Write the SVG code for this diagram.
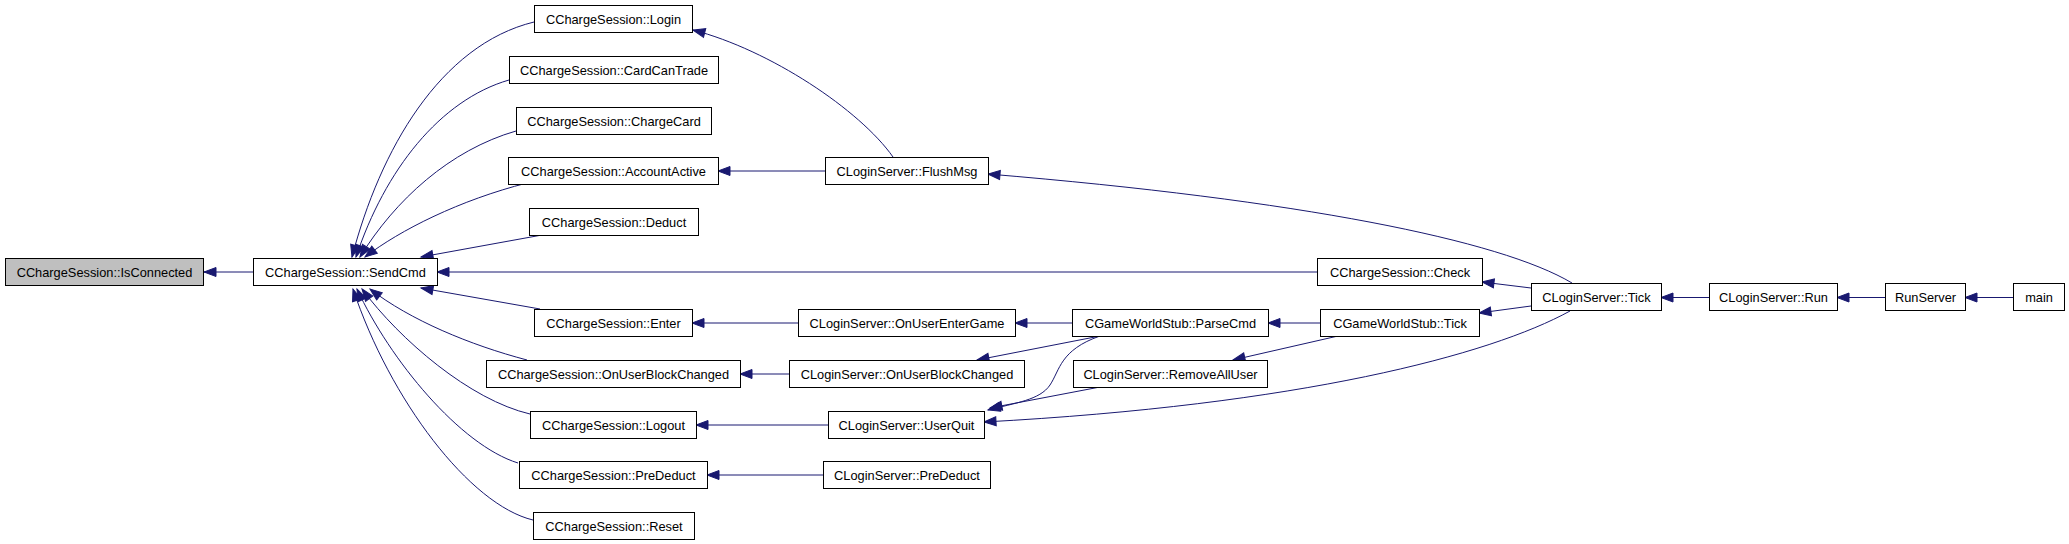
<svg xmlns="http://www.w3.org/2000/svg" width="2069" height="544" viewBox="0 0 2069 544">
<style>
.n rect{fill:#fff;stroke:#000;stroke-width:1}
.n text{font-family:"Liberation Sans",Arial,sans-serif;font-size:12.8px;text-anchor:middle;fill:#000}
.e path{fill:none;stroke:#191970;stroke-width:1;marker-end:url(#a)}
</style>
<defs>
<marker id="a" markerUnits="userSpaceOnUse" markerWidth="13" markerHeight="10" refX="12" refY="4.5" orient="auto" overflow="visible">
<path d="M0,0 L12,4.5 L0,9 z" fill="#191970" stroke="#191970" stroke-width="1"/>
</marker>
</defs>
<rect width="2069" height="544" fill="#fff"/>
<g id="edges" class="e">
<path d="M253,272 L204,272"/>
<path d="M534,22 C440,45 380,150 352,257"/>
<path d="M509,80 C440,100 385,170 356,257"/>
<path d="M516,131 C450,150 395,200 360,257"/>
<path d="M527,183 C460,200 400,230 365,257"/>
<path d="M542,235 L421,257"/>
<path d="M1317,272 L437,272"/>
<path d="M540,309 L421,288"/>
<path d="M527,360 C470,345 410,320 370,289"/>
<path d="M530,414 C470,400 400,340 362,289"/>
<path d="M518,463 C460,445 390,360 357,289"/>
<path d="M533,520 C470,505 390,400 353,289"/>
<path d="M893,157 C860,110 770,50 693,30"/>
<path d="M825,171 L718,171"/>
<path d="M1572,283 C1500,240 1300,200 988,174"/>
<path d="M1531,288 L1482,282"/>
<path d="M1531,306 L1479,313"/>
<path d="M1570,311 C1490,355 1300,405 984,422"/>
<path d="M798,323 L692,323"/>
<path d="M1072,323 L1015,323"/>
<path d="M1100,336 L977,360"/>
<path d="M1100,336 C1060,350 1060,370 1050,385 S1015,403 988,410"/>
<path d="M1320,323 L1268,323"/>
<path d="M1338,336 L1233,360"/>
<path d="M1100,387 L990,408"/>
<path d="M789,374 L740,374"/>
<path d="M828,425 L696,425"/>
<path d="M823,475 L707,475"/>
<path d="M1709,297.5 L1661,297.5"/>
<path d="M1885,297.5 L1837,297.5"/>
<path d="M2013,297.5 L1965,297.5"/>
</g>
<g id="n0" class="n"><rect x="5.5" y="258.5" width="198" height="27" style="fill:#bfbfbf"/><text x="104.5" y="277">CChargeSession::IsConnected</text></g>
<g id="n1" class="n"><rect x="253.5" y="258.5" width="184" height="27"/><text x="345.5" y="277">CChargeSession::SendCmd</text></g>
<g id="n2" class="n"><rect x="534.5" y="5.5" width="158" height="27"/><text x="613.5" y="24">CChargeSession::Login</text></g>
<g id="n3" class="n"><rect x="509.5" y="56.5" width="209" height="27"/><text x="614" y="75">CChargeSession::CardCanTrade</text></g>
<g id="n4" class="n"><rect x="516.5" y="107.5" width="195" height="27"/><text x="614" y="126">CChargeSession::ChargeCard</text></g>
<g id="n5" class="n"><rect x="508.5" y="157.5" width="210" height="27"/><text x="613.5" y="176">CChargeSession::AccountActive</text></g>
<g id="n6" class="n"><rect x="529.5" y="208.5" width="169" height="27"/><text x="614" y="227">CChargeSession::Deduct</text></g>
<g id="n7" class="n"><rect x="1317.5" y="258.5" width="165" height="27"/><text x="1400" y="277">CChargeSession::Check</text></g>
<g id="n8" class="n"><rect x="534.5" y="309.5" width="158" height="27"/><text x="613.5" y="328">CChargeSession::Enter</text></g>
<g id="n9" class="n"><rect x="486.5" y="360.5" width="254" height="27"/><text x="613.5" y="379">CChargeSession::OnUserBlockChanged</text></g>
<g id="n10" class="n"><rect x="530.5" y="411.5" width="166" height="27"/><text x="613.5" y="430">CChargeSession::Logout</text></g>
<g id="n11" class="n"><rect x="519.5" y="461.5" width="188" height="27"/><text x="613.5" y="480">CChargeSession::PreDeduct</text></g>
<g id="n12" class="n"><rect x="533.5" y="512.5" width="161" height="27"/><text x="614" y="531">CChargeSession::Reset</text></g>
<g id="n13" class="n"><rect x="825.5" y="157.5" width="163" height="27"/><text x="907" y="176">CLoginServer::FlushMsg</text></g>
<g id="n14" class="n"><rect x="798.5" y="309.5" width="217" height="27"/><text x="907" y="328">CLoginServer::OnUserEnterGame</text></g>
<g id="n15" class="n"><rect x="789.5" y="360.5" width="235" height="27"/><text x="907" y="379">CLoginServer::OnUserBlockChanged</text></g>
<g id="n16" class="n"><rect x="828.5" y="411.5" width="156" height="27"/><text x="906.5" y="430">CLoginServer::UserQuit</text></g>
<g id="n17" class="n"><rect x="823.5" y="461.5" width="167" height="27"/><text x="907" y="480">CLoginServer::PreDeduct</text></g>
<g id="n18" class="n"><rect x="1072.5" y="309.5" width="196" height="27"/><text x="1170.5" y="328">CGameWorldStub::ParseCmd</text></g>
<g id="n19" class="n"><rect x="1073.5" y="360.5" width="194" height="27"/><text x="1170.5" y="379">CLoginServer::RemoveAllUser</text></g>
<g id="n20" class="n"><rect x="1320.5" y="309.5" width="159" height="27"/><text x="1400" y="328">CGameWorldStub::Tick</text></g>
<g id="n21" class="n"><rect x="1531.5" y="283.5" width="130" height="27"/><text x="1596.5" y="302">CLoginServer::Tick</text></g>
<g id="n22" class="n"><rect x="1709.5" y="283.5" width="128" height="27"/><text x="1773.5" y="302">CLoginServer::Run</text></g>
<g id="n23" class="n"><rect x="1885.5" y="283.5" width="80" height="27"/><text x="1925.5" y="302">RunServer</text></g>
<g id="n24" class="n"><rect x="2013.5" y="283.5" width="51" height="27"/><text x="2039" y="302">main</text></g>
</svg>
